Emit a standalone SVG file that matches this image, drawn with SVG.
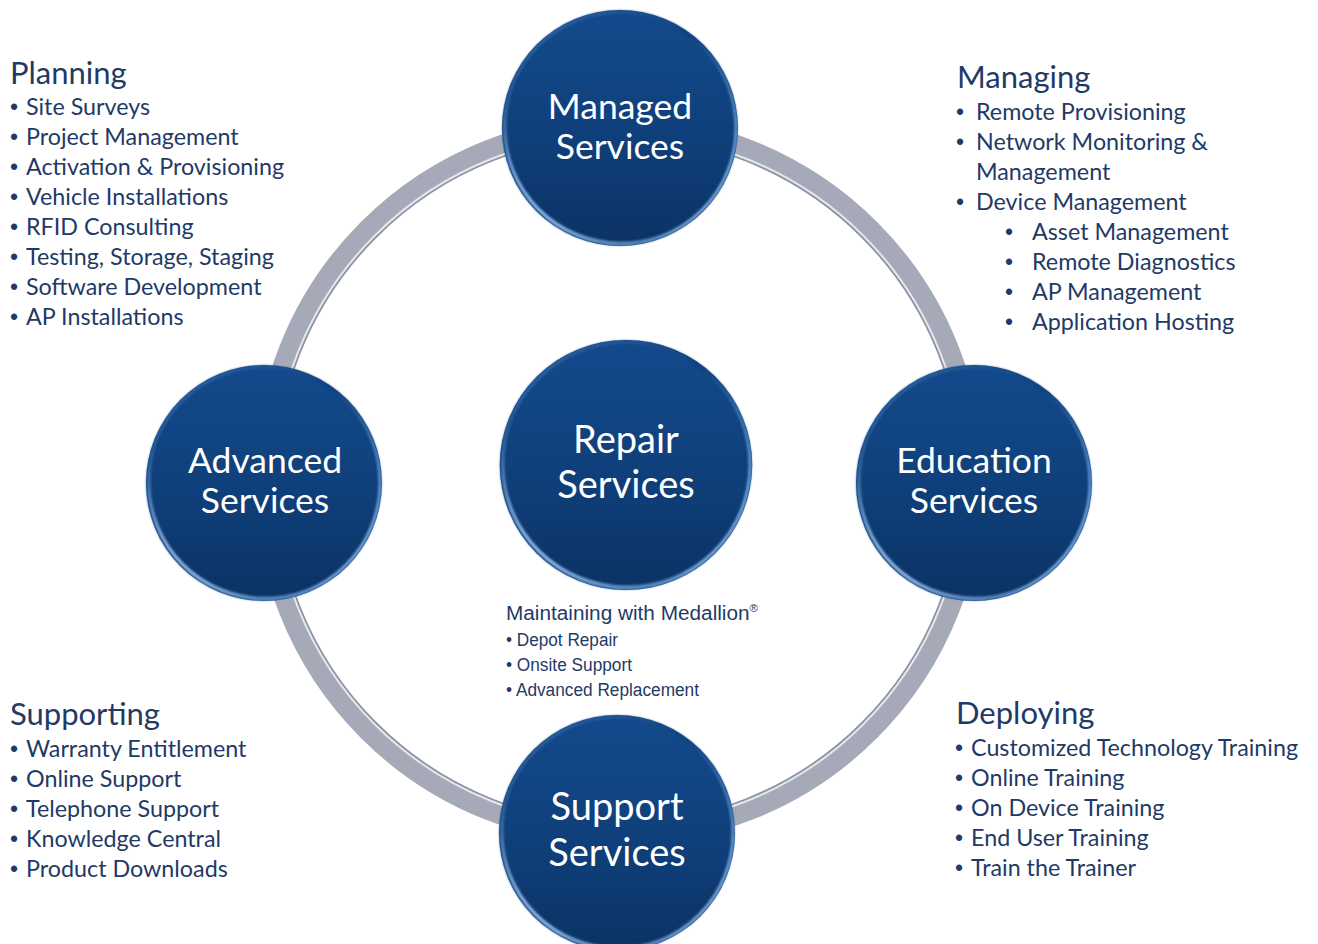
<svg xmlns="http://www.w3.org/2000/svg" width="1318" height="944" viewBox="0 0 1318 944">
  <defs>
    <linearGradient id="ballFill" x1="0" y1="0" x2="0" y2="1">
      <stop offset="0" stop-color="#134a8c"/>
      <stop offset="0.55" stop-color="#0f3f7a"/>
      <stop offset="1" stop-color="#0b3264"/>
    </linearGradient>
    <linearGradient id="rimGrad" x1="0" y1="0" x2="1" y2="1">
      <stop offset="0" stop-color="#3d6fae"/>
      <stop offset="0.45" stop-color="#0f3f7a"/>
      <stop offset="0.75" stop-color="#5d93d0"/>
      <stop offset="1" stop-color="#a7cbef"/>
    </linearGradient>
    <linearGradient id="rimGrad2" x1="1" y1="0" x2="0" y2="1">
      <stop offset="0" stop-color="#0f3f7a" stop-opacity="0"/>
      <stop offset="0.6" stop-color="#0f3f7a" stop-opacity="0"/>
      <stop offset="0.85" stop-color="#8fb8e6"/>
      <stop offset="1" stop-color="#cfe3f7"/>
    </linearGradient>
    <filter id="soft" x="-10%" y="-10%" width="120%" height="120%">
      <feGaussianBlur stdDeviation="1.2"/>
    </filter>
    <g id="ball">
      <circle r="118" fill="url(#ballFill)"/>
      <circle r="116" fill="none" stroke="url(#rimGrad)" stroke-width="3" filter="url(#soft)"/>
      <circle r="115" fill="none" stroke="url(#rimGrad2)" stroke-width="3" filter="url(#soft)"/>
    </g>
  </defs>
  <style>
    .ttl { font-family: Lato, "Open Sans", sans-serif; font-size: 31px; fill: #1f3a66; }
    .itm { font-family: Lato, "Open Sans", sans-serif; font-size: 23.3px; fill: #1f3a66; }
    .bul { font-family: "Liberation Sans", Arial, sans-serif; font-size: 23px; fill: #1f3a66; }
    .lbl { font-family: Lato, "Open Sans", sans-serif; font-size: 35.5px; fill: #ffffff; text-anchor: middle; }
    .big { font-size: 38px; }
    .sub { font-family: "Liberation Sans", Arial, sans-serif; fill: #1f3a66; }
  </style>
  <rect width="1318" height="944" fill="#ffffff"/>

  <!-- connecting ring -->
  <g id="connectors">
    <circle cx="619" cy="480" r="354" fill="none" stroke="#a6aab8" stroke-width="22"/>
    <circle cx="619" cy="480" r="345.5" fill="none" stroke="#e4e7ee" stroke-width="2"/>
    <circle cx="619" cy="480" r="343.5" fill="none" stroke="#8e93a1" stroke-width="1.5"/>
  </g>

  <!-- service nodes -->
  <g id="managed">
    <use href="#ball" transform="translate(620,128)"/>
    <text class="lbl" x="620" y="119">Managed</text>
    <text class="lbl" x="620" y="159">Services</text>
  </g>
  <g id="advanced">
    <use href="#ball" transform="translate(264,483)"/>
    <text class="lbl" x="265" y="473">Advanced</text>
    <text class="lbl" x="265" y="513">Services</text>
  </g>
  <g id="education">
    <use href="#ball" transform="translate(974,483)"/>
    <text class="lbl" x="974" y="473">Education</text>
    <text class="lbl" x="974" y="513">Services</text>
  </g>
  <g id="repair">
    <use href="#ball" transform="translate(626,465) scale(1.07,1.06)"/>
    <text class="lbl big" x="626" y="453">Repair</text>
    <text class="lbl big" x="626" y="498">Services</text>
  </g>
  <g id="support">
    <use href="#ball" transform="translate(617,833)"/>
    <text class="lbl big" x="617" y="820">Support</text>
    <text class="lbl big" x="617" y="866">Services</text>
  </g>

  <!-- repair details -->
  <g id="repair-notes">
    <text class="sub" x="506" y="620" font-size="20" textLength="252" lengthAdjust="spacingAndGlyphs">Maintaining with Medallion<tspan font-size="11" dy="-8">®</tspan></text>
    <text class="sub" x="506" y="646" font-size="18" textLength="112" lengthAdjust="spacingAndGlyphs">• Depot Repair</text>
    <text class="sub" x="506" y="671" font-size="18" textLength="126" lengthAdjust="spacingAndGlyphs">• Onsite Support</text>
    <text class="sub" x="506" y="696" font-size="18" textLength="193" lengthAdjust="spacingAndGlyphs">• Advanced Replacement</text>
  </g>

  <!-- planning -->
  <g id="planning">
    <text class="ttl" x="10" y="84">Planning</text>
    <g class="bul">
      <text x="10" y="115">•</text><text x="10" y="145">•</text><text x="10" y="175">•</text><text x="10" y="205">•</text>
      <text x="10" y="235">•</text><text x="10" y="265">•</text><text x="10" y="295">•</text><text x="10" y="325">•</text>
    </g>
    <text class="itm" x="26" y="115">Site Surveys</text>
    <text class="itm" x="26" y="145">Project Management</text>
    <text class="itm" x="26" y="175">Activation &amp; Provisioning</text>
    <text class="itm" x="26" y="205">Vehicle Installations</text>
    <text class="itm" x="26" y="235">RFID Consulting</text>
    <text class="itm" x="26" y="265">Testing, Storage, Staging</text>
    <text class="itm" x="26" y="295">Software Development</text>
    <text class="itm" x="26" y="325">AP Installations</text>
  </g>

  <!-- managing -->
  <g id="managing">
    <text class="ttl" x="957" y="88">Managing</text>
    <g class="bul">
      <text x="956" y="120">•</text><text x="956" y="150">•</text><text x="956" y="210">•</text>
      <text x="1005" y="240">•</text><text x="1005" y="270">•</text><text x="1005" y="300">•</text><text x="1005" y="330">•</text>
    </g>
    <text class="itm" x="976" y="120">Remote Provisioning</text>
    <text class="itm" x="976" y="150">Network Monitoring &amp;</text>
    <text class="itm" x="976" y="180">Management</text>
    <text class="itm" x="976" y="210">Device Management</text>
    <text class="itm" x="1032" y="240">Asset Management</text>
    <text class="itm" x="1032" y="270">Remote Diagnostics</text>
    <text class="itm" x="1032" y="300">AP Management</text>
    <text class="itm" x="1032" y="330">Application Hosting</text>
  </g>

  <!-- supporting -->
  <g id="supporting">
    <text class="ttl" x="10" y="725">Supporting</text>
    <g class="bul">
      <text x="10" y="757">•</text><text x="10" y="787">•</text><text x="10" y="817">•</text><text x="10" y="847">•</text><text x="10" y="877">•</text>
    </g>
    <text class="itm" x="26" y="757">Warranty Entitlement</text>
    <text class="itm" x="26" y="787">Online Support</text>
    <text class="itm" x="26" y="817">Telephone Support</text>
    <text class="itm" x="26" y="847">Knowledge Central</text>
    <text class="itm" x="26" y="877">Product Downloads</text>
  </g>

  <!-- deploying -->
  <g id="deploying">
    <text class="ttl" x="956" y="724">Deploying</text>
    <g class="bul">
      <text x="955" y="756">•</text><text x="955" y="786">•</text><text x="955" y="816">•</text><text x="955" y="846">•</text><text x="955" y="876">•</text>
    </g>
    <text class="itm" x="971" y="756">Customized Technology Training</text>
    <text class="itm" x="971" y="786">Online Training</text>
    <text class="itm" x="971" y="816">On Device Training</text>
    <text class="itm" x="971" y="846">End User Training</text>
    <text class="itm" x="971" y="876">Train the Trainer</text>
  </g>
</svg>
